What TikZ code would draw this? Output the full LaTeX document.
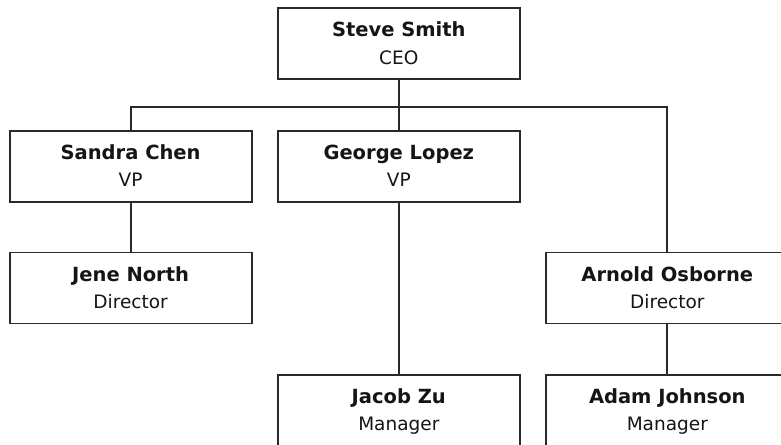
\documentclass[tikz,border=0pt]{standalone}
\usepackage{fontspec}
\setmainfont{DejaVu Sans}
\definecolor{edge}{HTML}{2A2A2A}
\definecolor{txt}{HTML}{151515}
\tikzset{
  box/.style={draw=edge, line width=1.9pt, fill=white, minimum width=242pt, minimum height=71pt, inner sep=0pt},
  nm/.style={anchor=base, text=txt, font=\fontsize{19.5}{22}\selectfont\bfseries, inner sep=0pt},
  role/.style={anchor=base, text=txt, font=\fontsize{18.5}{22}\selectfont, inner sep=0pt},
  link/.style={draw=edge, line width=1.9pt}
}
\begin{document}
\begin{tikzpicture}[x=1pt,y=-1pt]
\useasboundingbox (0,0) rectangle (781,444);
\clip (0,0) rectangle (781,444);
% boxes
\node[box] (ceo) at (398.8,43.8) {};
\node[box] (sandra) at (130.6,166.2) {};
\node[box] (george) at (398.8,166.2) {};
\node[box] (jene) at (130.6,288) {};
\node[box] (arnold) at (667.3,288) {};
\node[box] (jacob) at (398.8,410.5) {};
\node[box] (adam) at (667.3,410.5) {};
% texts
\node[nm] (ceoN) at ([yshift=7pt]ceo.center) {Steve Smith};
\node[role] (ceoR) at ([yshift=-20.3pt]ceo.center) {CEO};
\node[nm] (sandraN) at ([yshift=7pt]sandra.center) {Sandra Chen};
\node[role] (sandraR) at ([yshift=-20.3pt]sandra.center) {VP};
\node[nm] (georgeN) at ([yshift=7pt]george.center) {George Lopez};
\node[role] (georgeR) at ([yshift=-20.3pt]george.center) {VP};
\node[nm] (jeneN) at ([yshift=7pt]jene.center) {Jene North};
\node[role] (jeneR) at ([yshift=-20.3pt]jene.center) {Director};
\node[nm] (arnoldN) at ([yshift=7pt]arnold.center) {Arnold Osborne};
\node[role] (arnoldR) at ([yshift=-20.3pt]arnold.center) {Director};
\node[nm] (jacobN) at ([yshift=7pt]jacob.center) {Jacob Zu};
\node[role] (jacobR) at ([yshift=-20.3pt]jacob.center) {Manager};
\node[nm] (adamN) at ([yshift=7pt]adam.center) {Adam Johnson};
\node[role] (adamR) at ([yshift=-20.3pt]adam.center) {Manager};
% connectors
\coordinate (bus) at (0,106.7);
\draw[link] (ceo.south) -- (george.north);
\draw[link] (sandra.north) -- (sandra.north |- bus) -- (arnold.north |- bus) -- (arnold.north);
\draw[link] (sandra.south) -- (jene.north);
\draw[link] (george.south) -- (jacob.north);
\draw[link] (arnold.south) -- (adam.north);
\end{tikzpicture}
\end{document}
